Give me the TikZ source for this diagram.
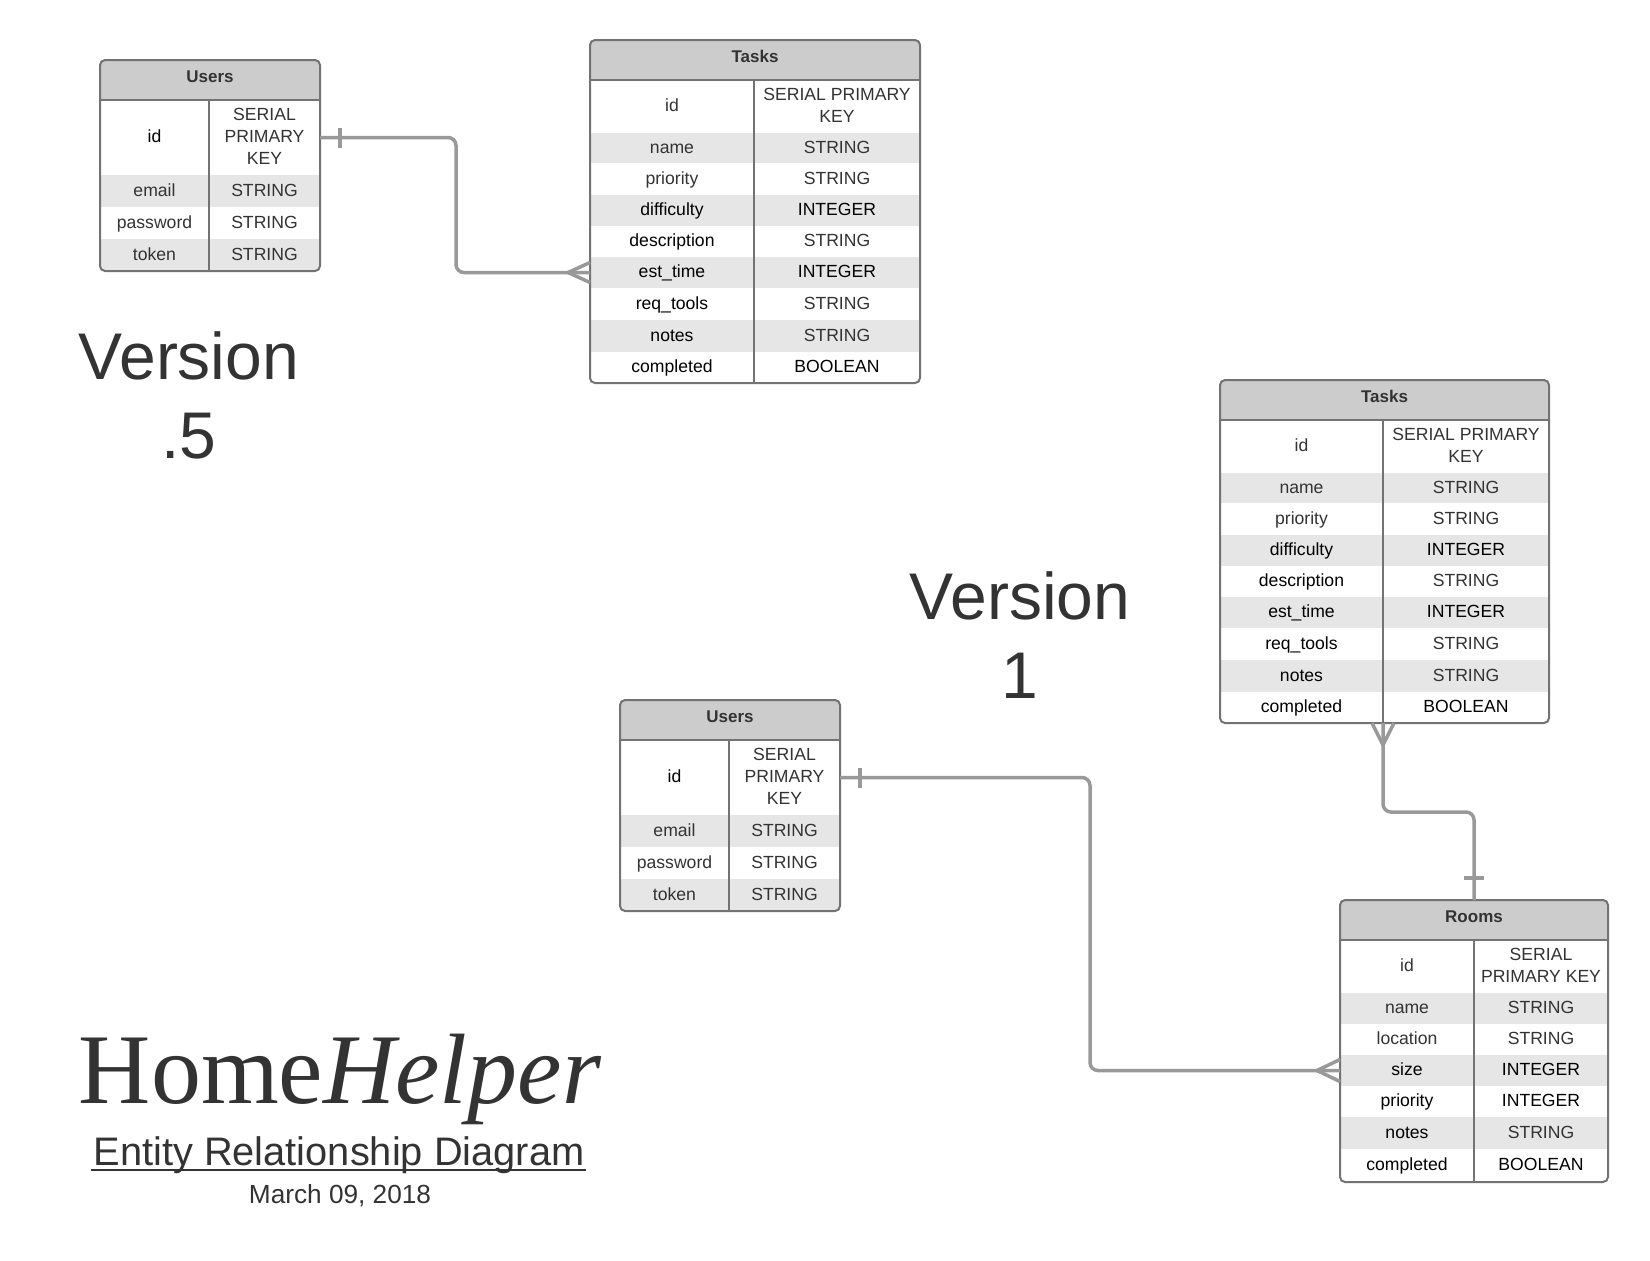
\documentclass[tikz,border=0pt]{standalone}
\usepackage{fontspec}
\setmainfont{Liberation Sans}
\newfontfamily\titleserif{Liberation Serif}
\usetikzlibrary{fit,calc}
\definecolor{txt}{HTML}{333333}
\definecolor{hdr}{HTML}{CCCCCC}
\definecolor{shade}{HTML}{E6E6E6}
\definecolor{bord}{HTML}{737373}
\definecolor{connc}{HTML}{999999}
\newcommand\bk[1]{\textcolor{black}{#1}}
\newcommand\cst{\rule[-2.2pt]{0pt}{9.7pt}}
\newcommand\erow[9]{%
  \node[cellbox,fill=#7,fit={(#2,#5) (#3,#6)}] (#1-l) {};
  \node[cellbox,fill=#7,fit={(#3,#5) (#4,#6)}] (#1-r) {};
  \node[celltxt] (#1-lt) at (#1-l.center) {\cst#8\cst};
  \node[celltxt] (#1-rt) at (#1-r.center) {\cst#9\cst};}
\newcommand\ehead[6]{%
  \node[cellbox,fill=hdr,fit={(#2,#4) (#3,#5)}] (#1) {};
  \node[celltxt,font=\fontsize{8.5}{11}\selectfont\bfseries] (#1-t) at ($(#1.center)+(0,-2.5)$) {\cst#6\cst};}
\tikzset{
  cellbox/.style={inner sep=0pt,outer sep=0pt,draw=none},
  celltxt/.style={inner sep=0pt,outer sep=0pt,align=center,text=txt,
    font=\fontsize{8.8}{11}\selectfont},
  tabframe/.style={draw=bord,line width=1pt,rounded corners=2.5pt,inner sep=0pt,outer sep=0pt},
  divl/.style={draw=bord,line width=1pt},
  conn/.style={draw=connc,line width=1.75pt,rounded corners=4pt},
  mk/.style={draw=connc,line width=1.75pt},
  bigtxt/.style={inner sep=0pt,text=txt,font=\fontsize{33}{39.5}\selectfont},
}
\begin{document}
\begin{tikzpicture}[x=0.5pt,y=-0.5pt]
\useasboundingbox (0,0) rectangle (1650,1260);

% ---------------- Users (v .5)
\begin{scope}
\clip[rounded corners=2.5pt] (100,60) rectangle (320,271);
\ehead{u1-h}{100}{320}{60}{100}{Users}
\erow{u1id}{100}{209}{320}{100}{175}{white}{\bk{id}}{SERIAL\\PRIMARY\\KEY}
\erow{u1em}{100}{209}{320}{175}{207}{shade}{email}{STRING}
\erow{u1pw}{100}{209}{320}{207}{239}{white}{password}{STRING}
\erow{u1tk}{100}{209}{320}{239}{271}{shade}{token}{STRING}
\end{scope}
\node[tabframe,fit={(100,60) (320,271)}] (u1) {};
\draw[divl] (u1-h.south west) -- (u1-h.south east);
\draw[divl] (u1id-r.north west) -- (u1tk-r.south west);

% ---------------- Tasks (v .5)
\begin{scope}
\clip[rounded corners=2.5pt] (590,40) rectangle (920,383);
\ehead{t1-h}{590}{920}{40}{80}{Tasks}
\erow{t1id}{590}{754}{920}{80}{133}{white}{id}{SERIAL PRIMARY\\KEY}
\erow{t1nm}{590}{754}{920}{133}{163}{shade}{name}{STRING}
\erow{t1pr}{590}{754}{920}{163}{195}{white}{priority}{STRING}
\erow{t1df}{590}{754}{920}{195}{226}{shade}{\bk{difficulty}}{\bk{INTEGER}}
\erow{t1ds}{590}{754}{920}{226}{257}{white}{\bk{description}}{STRING}
\erow{t1est}{590}{754}{920}{257}{288}{shade}{\bk{est\_time}}{\bk{INTEGER}}
\erow{t1rq}{590}{754}{920}{288}{320}{white}{\bk{req\_tools}}{STRING}
\erow{t1nt}{590}{754}{920}{320}{352}{shade}{\bk{notes}}{STRING}
\erow{t1cp}{590}{754}{920}{352}{383}{white}{\bk{completed}}{\bk{BOOLEAN}}
\end{scope}
\node[tabframe,fit={(590,40) (920,383)}] (t1) {};
\draw[divl] (t1-h.south west) -- (t1-h.south east);
\draw[divl] (t1id-r.north west) -- (t1cp-r.south west);

% ---------------- Tasks (v 1)
\begin{scope}
\clip[rounded corners=2.5pt] (1220,380) rectangle (1549,723);
\ehead{t2-h}{1220}{1549}{380}{420}{Tasks}
\erow{t2id}{1220}{1383}{1549}{420}{473}{white}{id}{SERIAL PRIMARY\\KEY}
\erow{t2nm}{1220}{1383}{1549}{473}{503}{shade}{name}{STRING}
\erow{t2pr}{1220}{1383}{1549}{503}{535}{white}{priority}{STRING}
\erow{t2df}{1220}{1383}{1549}{535}{566}{shade}{\bk{difficulty}}{\bk{INTEGER}}
\erow{t2ds}{1220}{1383}{1549}{566}{597}{white}{\bk{description}}{STRING}
\erow{t2est}{1220}{1383}{1549}{597}{628}{shade}{\bk{est\_time}}{\bk{INTEGER}}
\erow{t2rq}{1220}{1383}{1549}{628}{660}{white}{\bk{req\_tools}}{STRING}
\erow{t2nt}{1220}{1383}{1549}{660}{692}{shade}{\bk{notes}}{STRING}
\erow{t2cp}{1220}{1383}{1549}{692}{723}{white}{\bk{completed}}{\bk{BOOLEAN}}
\end{scope}
\node[tabframe,fit={(1220,380) (1549,723)}] (t2) {};
\draw[divl] (t2-h.south west) -- (t2-h.south east);
\draw[divl] (t2id-r.north west) -- (t2cp-r.south west);

% ---------------- Users (v 1)
\begin{scope}
\clip[rounded corners=2.5pt] (620,700) rectangle (840,911);
\ehead{u2-h}{620}{840}{700}{740}{Users}
\erow{u2id}{620}{729}{840}{740}{815}{white}{\bk{id}}{SERIAL\\PRIMARY\\KEY}
\erow{u2em}{620}{729}{840}{815}{847}{shade}{email}{STRING}
\erow{u2pw}{620}{729}{840}{847}{879}{white}{password}{STRING}
\erow{u2tk}{620}{729}{840}{879}{911}{shade}{token}{STRING}
\end{scope}
\node[tabframe,fit={(620,700) (840,911)}] (u2) {};
\draw[divl] (u2-h.south west) -- (u2-h.south east);
\draw[divl] (u2id-r.north west) -- (u2tk-r.south west);

% ---------------- Rooms (v 1)
\begin{scope}
\clip[rounded corners=2.5pt] (1340,900) rectangle (1608,1182);
\ehead{rm-h}{1340}{1608}{900}{940}{Rooms}
\erow{rmid}{1340}{1474}{1608}{940}{993}{white}{id}{SERIAL\\PRIMARY KEY}
\erow{rmnm}{1340}{1474}{1608}{993}{1024}{shade}{name}{STRING}
\erow{rmlc}{1340}{1474}{1608}{1024}{1055}{white}{location}{STRING}
\erow{rmsz}{1340}{1474}{1608}{1055}{1086}{shade}{\bk{size}}{\bk{INTEGER}}
\erow{rmpr}{1340}{1474}{1608}{1086}{1117}{white}{\bk{priority}}{\bk{INTEGER}}
\erow{rmnt}{1340}{1474}{1608}{1117}{1149}{shade}{\bk{notes}}{STRING}
\erow{rmcp}{1340}{1474}{1608}{1149}{1182}{white}{\bk{completed}}{\bk{BOOLEAN}}
\end{scope}
\node[tabframe,fit={(1340,900) (1608,1182)}] (rm) {};
\draw[divl] (rm-h.south west) -- (rm-h.south east);
\draw[divl] (rmid-r.north west) -- (rmcp-r.south west);

% ---------------- connectors
\draw[conn] (u1id-r.east) -- ++(136,0) |- (t1est-l.west);
\draw[mk] ($(u1id-r.east)+(20,-10)$) -- ++(0,20);
\draw[mk] ($(t1est-l.west)+(0,-10)$) -- ++(-22,10) -- ++(22,10);

\draw[conn] (u2id-r.east) -- ++(250,0) |- (rmsz-l.west);
\draw[mk] ($(u2id-r.east)+(20,-10)$) -- ++(0,20);
\draw[mk] ($(rmsz-l.west)+(0,-11)$) -- ++(-23,11) -- ++(23,11);

\draw[conn] (t2cp-r.south west) -- ++(0,89) -| (rm.north);
\draw[mk] ($(t2cp-r.south west)+(-11,0)$) -- ++(11,22) -- ++(11,-22);
\draw[mk] ($(rm.north)+(-10,-22)$) -- ++(20,0);

% ---------------- labels
\node[bigtxt,anchor=base] (v5a) at (189,379) {Version};
\node[bigtxt,anchor=base] (v5b) at (189,458) {.5};
\node[bigtxt,anchor=base] (v1a) at (1020,619) {Version};
\node[bigtxt,anchor=base] (v1b) at (1020,698) {1};

\node[inner sep=0pt,anchor=base,text=txt,font=\titleserif\fontsize{50}{56}\selectfont] (hh) at (340,1103) {Home\textit{Helper}};
\node[inner sep=0pt,anchor=base,text=txt,font=\fontsize{19.9}{23}\selectfont] (erd) at (339,1165) {Entity Relationship Diagram};
\draw[txt,line width=1.2pt] ($(erd.base west)+(-2,5)$) -- ($(erd.base east)+(1,5)$);
\node[inner sep=0pt,anchor=base,text=txt,font=\fontsize{13.1}{15}\selectfont] (date) at (340,1203) {March 09, 2018};
\end{tikzpicture}
\end{document}
